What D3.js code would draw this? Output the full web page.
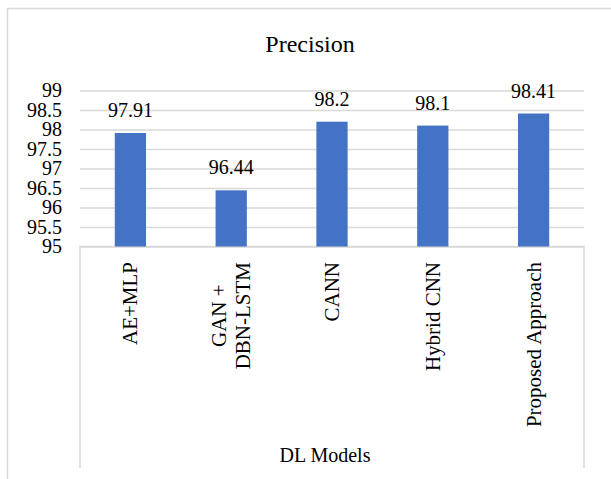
<!DOCTYPE html>
<html>
<head>
<meta charset="utf-8">
<script src="https://cdn.jsdelivr.net/npm/d3@7"></script>
<style>
  body { margin: 0; background: #fff; }
</style>
</head>
<body>
<script>
// chart data
var models = ["AE+MLP", "GAN +\nDBN-LSTM", "CANN", "Hybrid CNN", "Proposed Approach"];
var precision = [97.91, 96.44, 98.2, 98.1, 98.41];
var yTicks = [95, 95.5, 96, 96.5, 97, 97.5, 98, 98.5, 99];

var W = 611;
var H = 479;
var Left = 80, Right = 584, Top = 90.5, Bottom = 246.5, BoxBottom = 468;
var Grid = "#d9d9d9";
var Font = "'Liberation Serif', 'Times New Roman', serif";

function main() {
  var svg = d3.select("body").append("svg")
    .attr("width", W)
    .attr("height", H);

  //outer chart border (left and top only visible)
  svg.append("path")
    .attr("d", "M7.5," + H + "V8.5H" + W)
    .attr("fill", "none")
    .attr("stroke", Grid)
    .attr("stroke-width", 1.5);

  var x = d3.scaleBand()
    .domain(models)
    .range([Left, Right])
    .paddingInner(0.69)
    .paddingOuter(0.345);

  var y = d3.scaleLinear()
    .domain([95, 99])
    .range([Bottom, Top]);

  //y axis with gridlines
  var yAxis = d3.axisLeft(y)
    .tickValues(yTicks)
    .tickSize(-(Right - Left))
    .tickPadding(18)
    .tickFormat(d3.format(""));

  var g = svg.append("g")
    .attr("transform", "translate(" + Left + ",0)")
    .call(yAxis);
  g.select(".domain").remove();
  g.selectAll(".tick line").attr("stroke", Grid).attr("stroke-width", 1.5);
  g.selectAll(".tick text")
    .style("font-family", Font)
    .style("font-size", "20px")
    .attr("fill", "#000");

  //category box below axis
  svg.append("path")
    .attr("d", "M" + Left + "," + BoxBottom + "V" + Bottom + "H" + Right + "V" + BoxBottom)
    .attr("fill", "none")
    .attr("stroke", Grid)
    .attr("stroke-width", 1.5);

  //bars
  svg.selectAll("rect.bar")
    .data(precision)
    .enter()
    .append("rect")
    .attr("class", "bar")
    .attr("x", function(d, i) { return x(models[i]); })
    .attr("y", function(d) { return y(d); })
    .attr("width", x.bandwidth())
    .attr("height", function(d) { return Bottom - y(d); })
    .attr("fill", "#4472c4");

  //value labels
  svg.selectAll("text.val")
    .data(precision)
    .enter()
    .append("text")
    .attr("class", "val")
    .attr("x", function(d, i) { return x(models[i]) + x.bandwidth() / 2; })
    .attr("y", function(d) { return y(d) - 16; })
    .attr("text-anchor", "middle")
    .style("font-family", Font)
    .style("font-size", "20px")
    .text(function(d) { return d; });

  //rotated category labels
  models.forEach(function(m, i) {
    var lines = m.split("\n");
    var cx = x(m) + x.bandwidth() / 2;
    var t = svg.append("text")
      .attr("transform", "translate(" + cx + ",262) rotate(-90)")
      .style("font-family", Font)
      .style("font-size", "21px");
    if (lines.length == 1) {
      t.attr("text-anchor", "end").attr("dy", "0.33em").text(m);
    } else {
      //multi-line: lines centered on each other, block ends at top
      var widths = lines.map(function(l) {
        var s = svg.append("text").style("font-family", Font).style("font-size", "21px").text(l);
        var w = s.node().getComputedTextLength();
        s.remove();
        return w;
      });
      var longest = d3.max(widths);
      lines.forEach(function(l, j) {
        t.append("tspan")
          .attr("x", -longest / 2)
          .attr("y", (j - (lines.length - 1) / 2) * 24)
          .attr("dy", "0.33em")
          .attr("text-anchor", "middle")
          .text(l);
      });
    }
  });

  //title and axis title
  svg.append("text")
    .attr("x", 310)
    .attr("y", 52)
    .attr("text-anchor", "middle")
    .style("font-family", Font)
    .style("font-size", "24px")
    .text("Precision");

  svg.append("text")
    .attr("x", 325)
    .attr("y", 462)
    .attr("text-anchor", "middle")
    .style("font-family", Font)
    .style("font-size", "20px")
    .text("DL Models");
}

main();
</script>
</body>
</html>
